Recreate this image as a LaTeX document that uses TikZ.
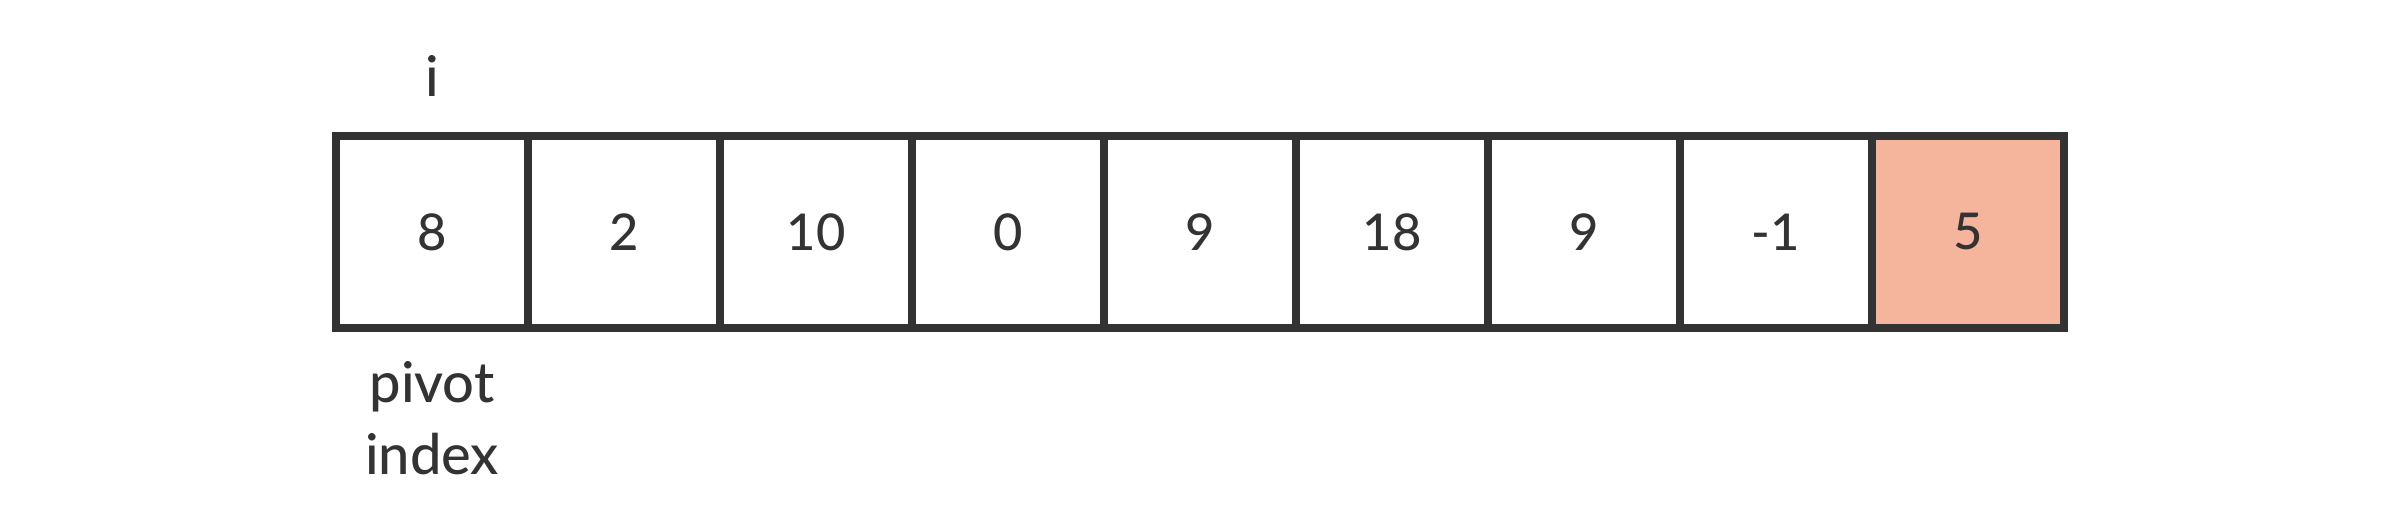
\documentclass[tikz,border=0pt]{standalone}
\usepackage{fontspec}
\IfFontExistsTF{Lato Medium}{\setmainfont{Lato Medium}}{%
  \IfFontExistsTF{Lato Semibold}{\setmainfont{Lato Semibold}}{%
    \setmainfont{Lato}[FakeBold=1.5,UprightFeatures={FakeBold=1.2}]}}
\definecolor{ink}{HTML}{333333}
\definecolor{pivotfill}{HTML}{F5B49C}
\begin{document}
\begin{tikzpicture}[x=0.75pt,y=-0.75pt,
  cell/.style={draw=ink,line width=6pt,minimum width=144pt,minimum height=144pt,inner sep=0pt,text=ink,font=\fontsize{38}{40}\selectfont},
  lbl/.style={text=ink,inner sep=0pt,font=\fontsize{42}{48}\selectfont}]
\useasboundingbox (0,0) rectangle (2400,516);
\foreach \v [count=\k from 0] in {8,2,10,0,9,18,9,-1} {
  \node[cell,fill=white] (c\k) at (432+192*\k,232) {\v};
}
\node[cell,fill=pivotfill] (c8) at (432+192*8,232) {5};
\node[lbl,anchor=base] (ilabel) at (432,97) {i};
\node[lbl,anchor=base] (pivot) at (432,403) {pivot};
\node[lbl,anchor=base] (index) at (432,475) {index};
\end{tikzpicture}
\end{document}
